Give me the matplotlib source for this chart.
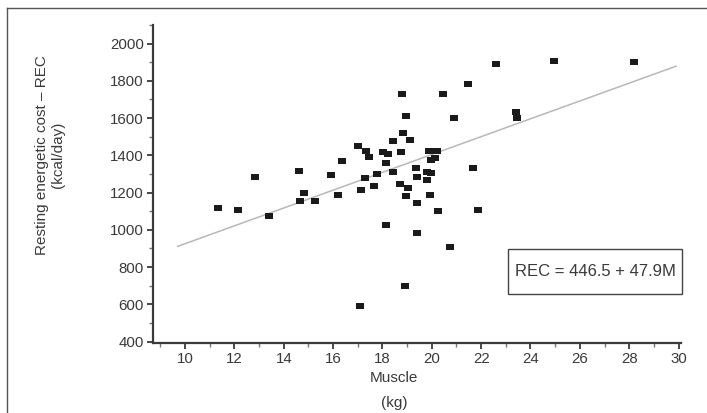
import matplotlib

matplotlib.use("Agg")
import matplotlib.pyplot as plt
from matplotlib.lines import Line2D
from matplotlib.patches import Rectangle
from matplotlib.ticker import MultipleLocator

# muscle mass (kg) and resting energetic cost (kcal/day)
muscle = [
    11.33, 12.16, 12.84, 13.42, 14.62, 14.67, 14.80, 15.26, 15.91, 16.19,
    16.36, 16.99, 17.33, 17.46, 17.30, 17.15, 17.64, 17.76, 18.04, 18.21,
    18.15, 18.43, 18.79, 18.97, 18.82, 19.10, 18.75, 18.43, 18.71, 18.97,
    19.02, 19.37, 19.42, 19.80, 19.96, 19.81, 19.90, 20.20, 19.97, 20.14,
    20.45, 20.88, 21.45, 21.65, 22.60, 23.41, 23.47, 24.94, 28.19, 19.91,
    19.39, 20.24, 21.87, 18.15, 19.42, 20.72, 18.90, 17.10,
]
rec = [
    1117, 1108, 1283, 1072, 1318, 1154, 1195, 1157, 1292, 1185,
    1370, 1449, 1422, 1393, 1278, 1216, 1235, 1300, 1420, 1407,
    1359, 1476, 1728, 1612, 1522, 1483, 1416, 1309, 1244, 1183,
    1224, 1334, 1283, 1310, 1305, 1267, 1423, 1423, 1377, 1388,
    1728, 1598, 1781, 1330, 1890, 1635, 1598, 1907, 1899, 1189,
    1142, 1099, 1108, 1024, 981, 907, 696, 590,
]

# regression line REC = 446.5 + 47.9 M
fit_intercept = 446.5
fit_slope = 47.9
fit_x = [9.7, 29.9]
fit_label = "REC = 446.5 + 47.9M"

x_ticks = [10, 12, 14, 16, 18, 20, 22, 24, 26, 28, 30]
y_ticks = [400, 600, 800, 1000, 1200, 1400, 1600, 1800, 2000]

TEXT = "#3a3a3a"
AXIS = "#3a3a3a"

plt.rcParams["font.family"] = ["Liberation Sans", "DejaVu Sans"]

W, H = 707, 413
fig = plt.figure(figsize=(W / 100, H / 100), dpi=100)
ax = fig.add_axes([153 / W, 1 - 343 / H, (681 - 153) / W, (343 - 25) / H])

fit_y = [fit_intercept + fit_slope * v for v in fit_x]
ax.plot(fit_x, fit_y, color="#b8b8b8", linewidth=1.1, zorder=2)

rect_marker = [(-1.35, -1), (1.35, -1), (1.35, 1), (-1.35, 1), (-1.35, -1)]
ax.plot(
    muscle,
    rec,
    linestyle="none",
    marker=rect_marker,
    markersize=6.2,
    color="#1a1a1a",
    markeredgewidth=0,
    zorder=3,
)

ax.set_xlim(8.7, 30.1)
ax.set_ylim(392, 2100)
ax.set_xticks(x_ticks)
ax.set_yticks(y_ticks)
ax.xaxis.set_minor_locator(MultipleLocator(1))
ax.yaxis.set_minor_locator(MultipleLocator(100))
ax.spines[["top", "right"]].set_visible(False)
for side in ("left", "bottom"):
    ax.spines[side].set_color(AXIS)
    ax.spines[side].set_linewidth(1.6)
ax.tick_params(which="major", length=4.5, width=1.3, color=AXIS,
               labelsize=10.8, labelcolor=TEXT, pad=2)
ax.tick_params(which="minor", length=3, width=1.0, color="#777777")

fig.text(394 / W, 1 - 378 / H, "Muscle", ha="center", va="center",
         fontsize=11, color=TEXT)
fig.text(394 / W, 1 - 403 / H, "(kg)", ha="center", va="center",
         fontsize=11, color=TEXT)
fig.text(50 / W, 1 - 155 / H, "Resting energetic cost \u2013 REC\n(kcal/day)",
         rotation=90, ha="center", va="center", multialignment="center",
         fontsize=11, color=TEXT, linespacing=1.2)

# equation box
fig.patches.append(Rectangle((508 / W, 1 - 294 / H), 174 / W, 45 / H,
                             transform=fig.transFigure, fill=False,
                             edgecolor="#444444", linewidth=1.0))
fig.text(595 / W, 1 - 271.5 / H, fit_label, ha="center", va="center",
         fontsize=12, color=TEXT)

# outer frame (left and top edges visible)
fig.add_artist(Line2D([7 / W, 7 / W], [0, 1 - 8 / H], transform=fig.transFigure,
                      color="#555555", linewidth=1.0))
fig.add_artist(Line2D([7 / W, 1], [1 - 8 / H, 1 - 8 / H], transform=fig.transFigure,
                      color="#555555", linewidth=1.0))

fig.savefig("out.png", dpi=100, facecolor="white")
